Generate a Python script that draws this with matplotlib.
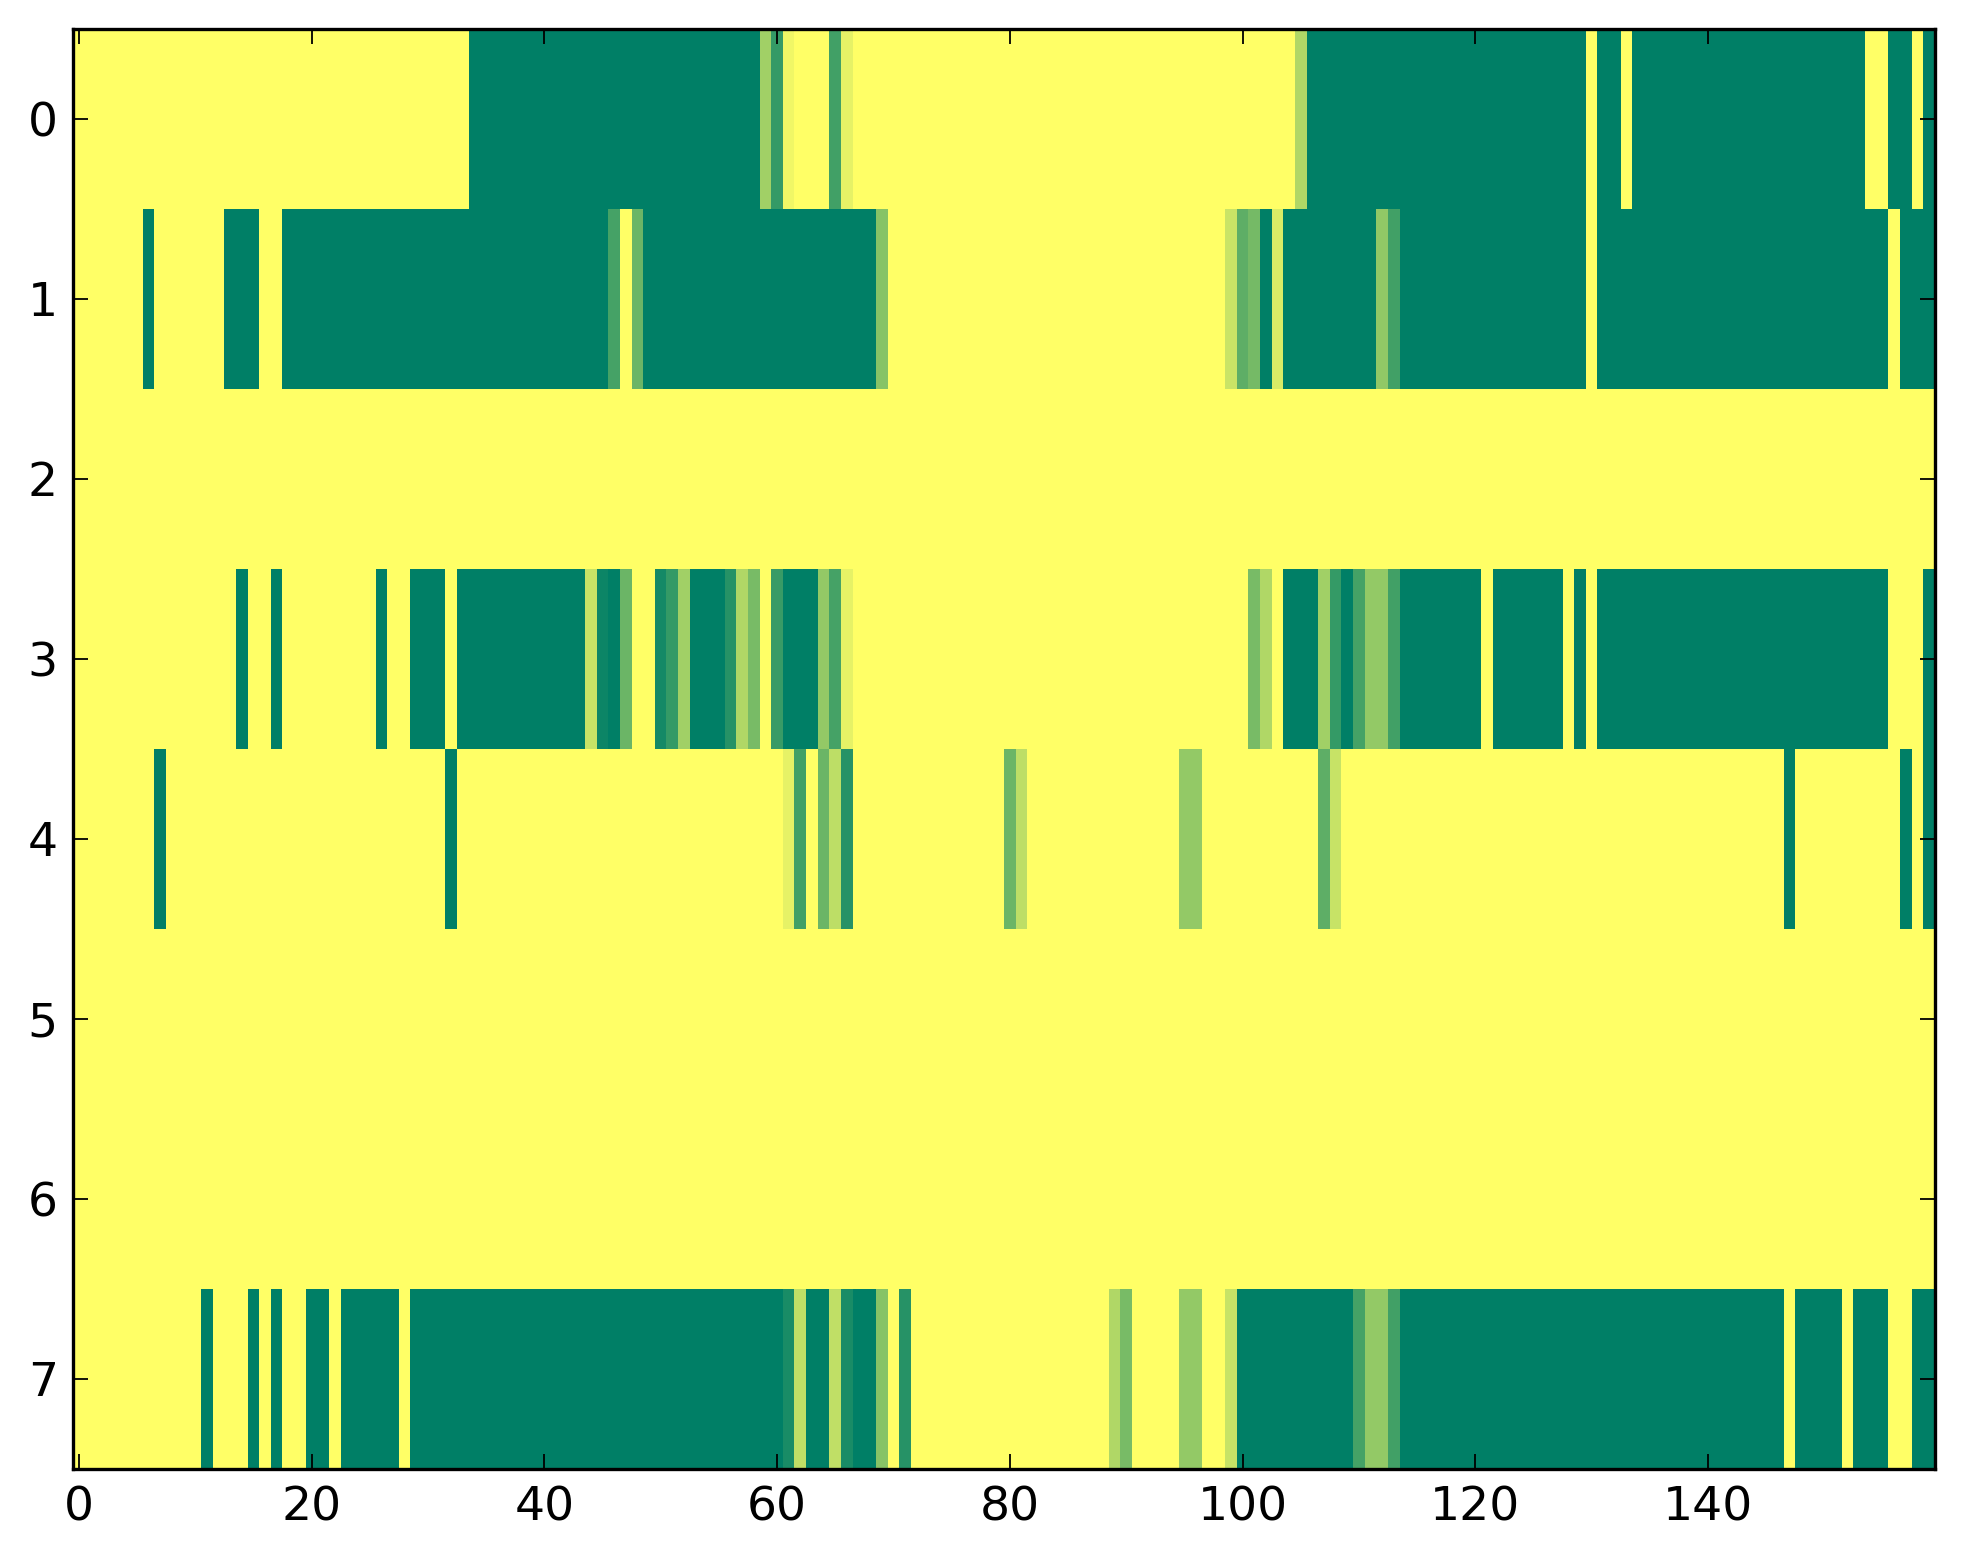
import numpy as np
import matplotlib
matplotlib.use("Agg")
import matplotlib.pyplot as plt

# value per cell (0 = dark green, 1 = yellow in the 'summer' colormap)
row0 = [1, 1, 1, 1, 1, 1, 1, 1, 1, 1, 1, 1, 1, 1, 1, 1, 1, 1, 1, 1,
        1, 1, 1, 1, 1, 1, 1, 1, 1, 1, 1, 1, 1, 1, 0, 0, 0, 0, 0, 0,
        0, 0, 0, 0, 0, 0, 0, 0, 0, 0, 0, 0, 0, 0, 0, 0, 0, 0, 0, 0.63,
        0.21, 0.94, 1, 1, 1, 0.26, 0.9, 1, 1, 1, 1, 1, 1, 1, 1, 1, 1, 1, 1, 1,
        1, 1, 1, 1, 1, 1, 1, 1, 1, 1, 1, 1, 1, 1, 1, 1, 1, 1, 1, 1,
        1, 1, 1, 1, 1, 0.69, 0, 0, 0, 0, 0, 0, 0, 0, 0, 0, 0, 0, 0, 0,
        0, 0, 0, 0, 0, 0, 0, 0, 0, 0, 1, 0, 0, 1, 0, 0, 0, 0, 0, 0,
        0, 0, 0, 0, 0, 0, 0, 0, 0, 0, 0, 0, 0, 0, 1, 1, 0, 0, 1, 0]

row1 = [1, 1, 1, 1, 1, 1, 0, 1, 1, 1, 1, 1, 1, 0, 0, 0, 1, 1, 0, 0,
        0, 0, 0, 0, 0, 0, 0, 0, 0, 0, 0, 0, 0, 0, 0, 0, 0, 0, 0, 0,
        0, 0, 0, 0, 0, 0, 0.27, 1, 0.42, 0, 0, 0, 0, 0, 0, 0, 0, 0, 0, 0,
        0, 0, 0, 0, 0, 0, 0, 0, 0, 0.53, 1, 1, 1, 1, 1, 1, 1, 1, 1, 1,
        1, 1, 1, 1, 1, 1, 1, 1, 1, 1, 1, 1, 1, 1, 1, 1, 1, 1, 1, 0.79,
        0.37, 0.46, 0, 0.85, 0, 0, 0, 0, 0, 0, 0, 0, 0.57, 0.26, 0, 0, 0, 0, 0, 0,
        0, 0, 0, 0, 0, 0, 0, 0, 0, 0, 1, 0, 0, 0, 0, 0, 0, 0, 0, 0,
        0, 0, 0, 0, 0, 0, 0, 0, 0, 0, 0, 0, 0, 0, 0, 0, 1, 0, 0, 0]

row2 = [1, 1, 1, 1, 1, 1, 1, 1, 1, 1, 1, 1, 1, 1, 1, 1, 1, 1, 1, 1,
        1, 1, 1, 1, 1, 1, 1, 1, 1, 1, 1, 1, 1, 1, 1, 1, 1, 1, 1, 1,
        1, 1, 1, 1, 1, 1, 1, 1, 1, 1, 1, 1, 1, 1, 1, 1, 1, 1, 1, 1,
        1, 1, 1, 1, 1, 1, 1, 1, 1, 1, 1, 1, 1, 1, 1, 1, 1, 1, 1, 1,
        1, 1, 1, 1, 1, 1, 1, 1, 1, 1, 1, 1, 1, 1, 1, 1, 1, 1, 1, 1,
        1, 1, 1, 1, 1, 1, 1, 1, 1, 1, 1, 1, 1, 1, 1, 1, 1, 1, 1, 1,
        1, 1, 1, 1, 1, 1, 1, 1, 1, 1, 1, 1, 1, 1, 1, 1, 1, 1, 1, 1,
        1, 1, 1, 1, 1, 1, 1, 1, 1, 1, 1, 1, 1, 1, 1, 1, 1, 1, 1, 1]

row3 = [1, 1, 1, 1, 1, 1, 1, 1, 1, 1, 1, 1, 1, 1, 0, 1, 1, 0, 1, 1,
        1, 1, 1, 1, 1, 1, 0, 1, 1, 0, 0, 0, 1, 0, 0, 0, 0, 0, 0, 0,
        0, 0, 0, 0, 0.78, 0.05, 0, 0.42, 1, 1, 0.08, 0.21, 0.63, 0, 0, 0, 0.15, 0.69, 0.47, 1,
        0.22, 0, 0, 0, 0.58, 0.27, 0.9, 1, 1, 1, 1, 1, 1, 1, 1, 1, 1, 1, 1, 1,
        1, 1, 1, 1, 1, 1, 1, 1, 1, 1, 1, 1, 1, 1, 1, 1, 1, 1, 1, 1,
        1, 0.47, 0.69, 1, 0, 0, 0, 0.63, 0.21, 0, 0.27, 0.58, 0.58, 0.26, 0, 0, 0, 0, 0, 0,
        0, 1, 0, 0, 0, 0, 0, 0, 1, 0, 1, 0, 0, 0, 0, 0, 0, 0, 0, 0,
        0, 0, 0, 0, 0, 0, 0, 0, 0, 0, 0, 0, 0, 0, 0, 0, 1, 1, 1, 0]

row4 = [1, 1, 1, 1, 1, 1, 1, 0, 1, 1, 1, 1, 1, 1, 1, 1, 1, 1, 1, 1,
        1, 1, 1, 1, 1, 1, 1, 1, 1, 1, 1, 1, 0, 1, 1, 1, 1, 1, 1, 1,
        1, 1, 1, 1, 1, 1, 1, 1, 1, 1, 1, 1, 1, 1, 1, 1, 1, 1, 1, 1,
        1, 0.9, 0.26, 1, 0.42, 0.74, 0.15, 1, 1, 1, 1, 1, 1, 1, 1, 1, 1, 1, 1, 1,
        0.42, 0.74, 1, 1, 1, 1, 1, 1, 1, 1, 1, 1, 1, 1, 1, 0.58, 0.58, 1, 1, 1,
        1, 1, 1, 1, 1, 1, 1, 0.37, 0.78, 1, 1, 1, 1, 1, 1, 1, 1, 1, 1, 1,
        1, 1, 1, 1, 1, 1, 1, 1, 1, 1, 1, 1, 1, 1, 1, 1, 1, 1, 1, 1,
        1, 1, 1, 1, 1, 1, 1, 0, 1, 1, 1, 1, 1, 1, 1, 1, 1, 0, 1, 0]

row5 = list(row2)
row6 = list(row2)

row7 = [1, 1, 1, 1, 1, 1, 1, 1, 1, 1, 1, 0, 1, 1, 1, 0, 1, 0, 1, 1,
        0, 0, 1, 0, 0, 0, 0, 0, 1, 0, 0, 0, 0, 0, 0, 0, 0, 0, 0, 0,
        0, 0, 0, 0, 0, 0, 0, 0, 0, 0, 0, 0, 0, 0, 0, 0, 0, 0, 0, 0,
        0, 0.1, 0.75, 0, 0, 0.75, 0.1, 0, 0, 0.53, 1, 0.15, 1, 1, 1, 1, 1, 1, 1, 1,
        1, 1, 1, 1, 1, 1, 1, 1, 1, 0.69, 0.47, 1, 1, 1, 1, 0.58, 0.58, 1, 1, 0.78,
        0, 0, 0, 0, 0, 0, 0, 0, 0, 0, 0.27, 0.58, 0.58, 0.26, 0, 0, 0, 0, 0, 0,
        0, 0, 0, 0, 0, 0, 0, 0, 0, 0, 0, 0, 0, 0, 0, 0, 0, 0, 0, 0,
        0, 0, 0, 0, 0, 0, 0, 1, 0, 0, 0, 0, 1, 0, 0, 0, 1, 1, 0, 0]

x_ticks = [0, 20, 40, 60, 80, 100, 120, 140]
y_ticks = [0, 1, 2, 3, 4, 5, 6, 7]

data = np.array([row0, row1, row2, row3, row4, row5, row6, row7], dtype=float)

W, H = 1963, 1564
fig = plt.figure(figsize=(W / 100, H / 100), dpi=100, facecolor="white")
ax = fig.add_axes([73 / W, 1 - 1469 / H, (1935 - 73) / W, (1469 - 29) / H])
ax.imshow(data, cmap="summer", vmin=0, vmax=1, aspect="auto",
          interpolation="nearest")

ax.set_xticks(x_ticks)
ax.set_yticks(y_ticks)
ax.set_xlim(-0.5, data.shape[1] - 0.5)
ax.set_ylim(data.shape[0] - 0.5, -0.5)

for s in ax.spines.values():
    s.set_linewidth(2.4)
ax.tick_params(which="major", direction="in", length=10.8, width=1.3,
               top=True, right=True, labelsize=34, pad=11, colors="black")
ax.tick_params(axis="x", pad=12)
for lab in ax.get_xticklabels() + ax.get_yticklabels():
    lab.set_family("DejaVu Sans")

fig.savefig("out.png", dpi=100, facecolor="white")
